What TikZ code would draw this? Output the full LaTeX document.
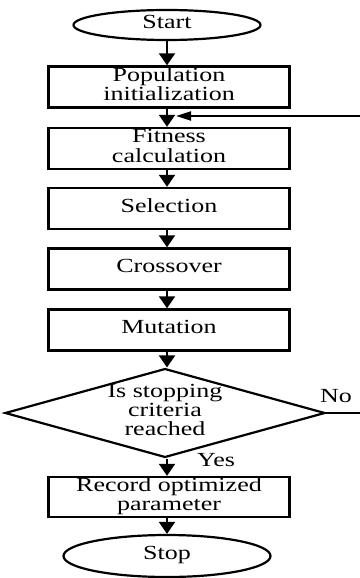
\documentclass[tikz,border=0pt]{standalone}
\usepackage{fontspec}
\setmainfont{Liberation Serif}
\usetikzlibrary{shapes.geometric,arrows.meta}
\newcommand{\sx}[1]{\scalebox{1.3}[1]{\begin{tabular}{@{}c@{}}#1\end{tabular}}}
\begin{document}
\begin{tikzpicture}[x=1pt,y=-1pt,
  every node/.style={font=\fontsize{20}{18.5}\selectfont, inner sep=0pt},
  procbox/.style={draw, line width=2.4pt, rectangle, minimum width=241pt, minimum height=41pt},
  term/.style={draw, line width=2.2pt, ellipse},
  decide/.style={draw, line width=2.2pt, diamond, aspect=3.6, minimum width=310pt, minimum height=86pt},
  flow/.style={line width=2pt, -{Triangle[width=16pt,length=12pt]}},
  back/.style={line width=2pt, -{Triangle[width=9pt,length=15pt]}}]
\useasboundingbox (0,0) rectangle (359,578);
\node[term, minimum width=187pt, minimum height=30pt] (start) at (167,25) {\sx{Start}};
\node[procbox] (pop) at (169,87) {\sx{Population\\initialization}};
\node[procbox] (fit) at (169,148.5) {\sx{Fitness\\calculation}};
\node[procbox] (sel) at (169,208.5) {\sx{Selection}};
\node[procbox] (cro) at (169,269) {\sx{Crossover}};
\node[procbox] (mut) at (169,330) {\sx{Mutation}};
\node[decide] (dec) at (165,413) {\sx{Is stopping\\criteria\\reached}};
\node[procbox, minimum height=40pt] (rec) at (169,497) {\sx{Record optimized\\parameter}};
\node[term, minimum width=207pt, minimum height=42pt] (stop) at (167,556) {\sx{Stop}};
\node (no) at (336,399) {\sx{No}};
\node (yes) at (216,463) {\sx{Yes}};
\coordinate (fb) at (176,116);
\coordinate (rt) at (375,413);
\draw[flow] (start.south -| 167,0) -- (pop.north -| 167,0);
\draw[flow] (pop.south -| 167,0) -- (fit.north -| 167,0);
\draw[flow] (fit.south -| 167,0) -- (sel.north -| 167,0);
\draw[flow] (sel.south -| 167,0) -- (cro.north -| 167,0);
\draw[flow] (cro.south -| 167,0) -- (mut.north -| 167,0);
\draw[flow] (mut.south -| 167,0) -- (dec.north -| 167,0);
\draw[flow] (dec.south -| 167,0) -- (rec.north -| 167,0);
\draw[flow] (rec.south -| 167,0) -- (stop.north -| 167,0);
\draw[back] (dec.east) -- (rt) |- (fb);
\end{tikzpicture}
\end{document}
